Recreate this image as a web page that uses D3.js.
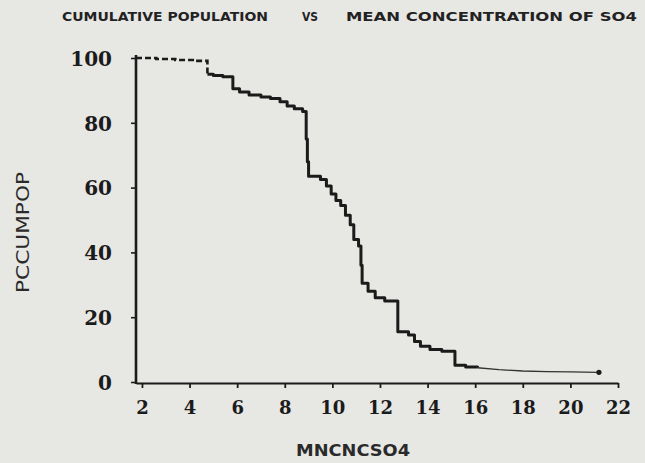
<!DOCTYPE html>
<html>
<head>
<meta charset="utf-8">
<script src="https://cdn.jsdelivr.net/npm/d3@7"></script>
<style>
  html, body { margin: 0; padding: 0; background: #e7e7e4; }
  svg { display: block; }
</style>
</head>
<body>
<svg id="chart" width="645" height="463"></svg>
<script>
// ---- data ----
const concentration = [1.75, 2.6, 3.4, 4.2, 4.75, 5.0, 5.4, 5.82, 6.1, 6.5, 7.0, 7.4, 7.8, 8.1, 8.4, 8.75,
  8.9, 8.95, 9.0, 9.5, 9.75, 9.95, 10.15, 10.35, 10.55, 10.75, 10.9, 11.1, 11.2, 11.25, 11.5, 11.8,
  12.2, 12.75, 13.2, 13.45, 13.7, 14.1, 14.6, 15.15, 15.6, 16.1, 17.0, 18.0, 19.0, 20.0, 21.2];
const pcCumPop = [100, 99.7, 99.4, 99.1, 95.0, 94.6, 94.2, 90.5, 89.5, 88.6, 88.0, 87.5, 86.5, 85.2, 84.3, 83.5,
  75, 68, 63.5, 62.5, 60.5, 58, 56, 54.5, 51.5, 48.5, 44, 42, 36, 30.5, 28, 26,
  25, 15.5, 14.5, 12.5, 11, 10, 9.5, 5.2, 4.6, 4.4, 3.8, 3.4, 3.2, 3.1, 3.0];
const xTicks = [2, 4, 6, 8, 10, 12, 14, 16, 18, 20, 22];
const yTicks = [0, 20, 40, 60, 80, 100];
const titleParts = ["CUMULATIVE POPULATION", "VS", "MEAN CONCENTRATION OF SO4"];
const xLabel = "MNCNCSO4";
const yLabel = "PCCUMPOP";

const points = concentration.map((c, i) => ({ x: c, y: pcCumPop[i] }));

// ---- layout ----
const svg = d3.select("#chart");
const ink = "#1b1b1b";
const x = d3.scaleLinear().domain([1.75, 22]).range([136, 618]);
const y = d3.scaleLinear().domain([0, 100]).range([382, 58]);

svg.append("rect").attr("width", 645).attr("height", 463).attr("fill", "#e7e7e4");

// title
const titleX = [62, 302, 346];
const titleW = [206, 16, 291];
titleParts.forEach((t, i) => {
  svg.append("text")
    .attr("x", titleX[i]).attr("y", 21)
    .attr("textLength", titleW[i]).attr("lengthAdjust", "spacingAndGlyphs")
    .attr("font-family", "DejaVu Sans").attr("font-weight", "bold")
    .attr("font-size", 12.5).attr("fill", "#222")
    .text(t);
});

// axes
const xAxis = d3.axisBottom(x).tickValues(xTicks).tickSize(5).tickSizeOuter(0).tickFormat(d3.format("d"));
const gx = svg.append("g").attr("transform", "translate(0,383)").call(xAxis);
gx.select(".domain").attr("stroke", ink).attr("stroke-width", 2.2);
gx.selectAll(".tick line").attr("stroke", ink).attr("stroke-width", 1.8);
gx.selectAll(".tick text")
  .attr("font-family", "DejaVu Serif").attr("font-weight", "bold")
  .attr("font-size", 18).attr("fill", ink).attr("dy", null).attr("y", 31);

const yAxis = d3.axisLeft(y).tickValues(yTicks).tickSize(5).tickSizeOuter(0).tickFormat(d3.format("d"));
const gy = svg.append("g").attr("transform", "translate(136,0)").call(yAxis);
gy.select(".domain").attr("stroke", ink).attr("stroke-width", 2.6)
  .attr("d", `M0,${y(0) + 2}V${y(100) - 3}`);
gy.selectAll(".tick line").attr("stroke", ink).attr("stroke-width", 1.6);
gy.selectAll(".tick text")
  .attr("font-family", "DejaVu Serif").attr("font-weight", "bold")
  .attr("font-size", 20).attr("fill", ink).attr("x", -24).attr("dy", "0.36em");
svg.selectAll(".domain").attr("fill", "none");

// axis labels
svg.append("text")
  .attr("x", 296).attr("y", 456)
  .attr("textLength", 114).attr("lengthAdjust", "spacingAndGlyphs")
  .attr("font-family", "DejaVu Sans").attr("font-weight", "bold")
  .attr("font-size", 16).attr("fill", "#2a2a2a").text(xLabel);

svg.append("text")
  .attr("transform", "translate(29,293) rotate(-90)")
  .attr("textLength", 121).attr("lengthAdjust", "spacingAndGlyphs")
  .attr("font-family", "DejaVu Sans")
  .attr("font-size", 18).attr("fill", "#2a2a2a").text(yLabel);

// curve
const line = d3.line().x(d => x(d.x)).y(d => y(d.y)).curve(d3.curveStepAfter);
const head = points.filter(d => d.x <= 4.75);
const body = points.filter(d => d.x >= 4.75 && d.x <= 16.1);
const tail = points.filter(d => d.x >= 16.1);

svg.append("path").datum(head).attr("d", line)
  .attr("fill", "none").attr("stroke", ink).attr("stroke-width", 2.6)
  .attr("stroke-dasharray", "6,3");
svg.append("path").datum(body).attr("d", line)
  .attr("fill", "none").attr("stroke", ink).attr("stroke-width", 3)
  .attr("stroke-linejoin", "round");
svg.append("path").datum(tail).attr("d", d3.line().x(d => x(d.x)).y(d => y(d.y)))
  .attr("fill", "none").attr("stroke", "#333").attr("stroke-width", 1.3);
const last = points[points.length - 1];
svg.append("circle").attr("cx", x(last.x)).attr("cy", y(last.y)).attr("r", 2.6).attr("fill", ink);
</script>
</body>
</html>
